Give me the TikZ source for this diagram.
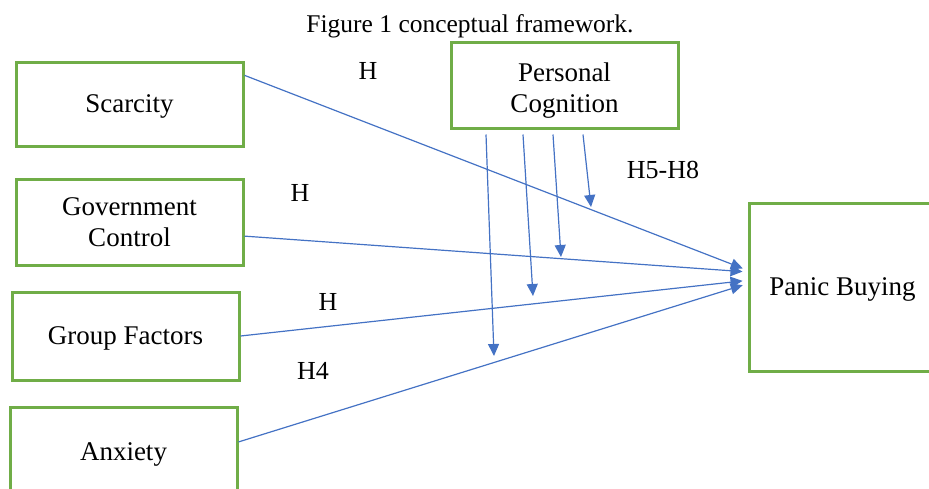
\documentclass[tikz,border=0pt]{standalone}
\usepackage{fontspec}
\setmainfont{Liberation Serif}
\usepackage{tikz}
\usetikzlibrary{arrows.meta}

\definecolor{boxgreen}{HTML}{70AD47}
\definecolor{linkblue}{HTML}{4472C4}

\begin{document}
\begin{tikzpicture}[x=1pt, y=-1pt,
   factor/.style={
      draw = boxgreen,
      line width = 3pt,
      minimum width = 227pt,
      align = center,
      inner sep = 0pt,
      font = \fontsize{27}{31}\selectfont
   },
   oneline/.style={
      text depth = 0pt
   },
   link/.style={
      draw = linkblue,
      line width = 1.2pt,
      -{Triangle[length=12pt,width=11pt]}
   },
   hyp/.style={
      font = \fontsize{26}{30}\selectfont
   }]
   \useasboundingbox (0,0) rectangle (929,488);
   \clip (0,0) rectangle (929,488);

   \node[name=title, font=\fontsize{25.5}{30}\selectfont] at (470,26) {Figure 1 conceptual framework.};

   \node[name=scarcity, factor, oneline, minimum height=84pt] at (129.5,104) {Scarcity};
   \node[name=govt, factor, minimum height=86pt] at (129.5,222) {Government\\Control};
   \node[name=group, factor, oneline, minimum height=88pt] at (125.5,336) {Group Factors};
   \node[name=anxiety, factor, oneline, minimum height=90pt] at (123.5,452) {Anxiety};
   \node[name=cognition, factor, minimum height=86pt] at (564.5,85) {\rule{0pt}{29pt}Personal\\Cognition};
   \node[name=panic, factor, oneline, minimum width=187pt, minimum height=168pt] at (842.5,287) {Panic Buying};

   \draw[link, shorten >=5pt] (scarcity.14) -- (panic.170);
   \draw[link, shorten >=5pt] (govt.-7) -- (panic.171.5);
   \draw[link, shorten >=5pt] (group.east) -- (panic.176);
   \draw[link, shorten >=5pt] (anxiety.5) -- (panic.178);

   \foreach \dx/\ex/\ey [count=\i] in {-78.5/494/356, -41.5/533/296, -11.5/561/257, 18.5/591/207}
   {
      \coordinate (m\i) at (\ex,\ey);
      \draw[link] ([xshift=\dx pt, yshift=-5pt]cognition.south) -- (m\i);
   }

   \node[name=h1, hyp] at (368,71) {H};
   \node[name=h2, hyp] at (300,193) {H};
   \node[name=h3, hyp] at (328,302) {H};
   \node[name=h4, hyp] at (313,371) {H4};
   \node[name=h58, hyp] at (663,170) {H5-H8};
\end{tikzpicture}
\end{document}
